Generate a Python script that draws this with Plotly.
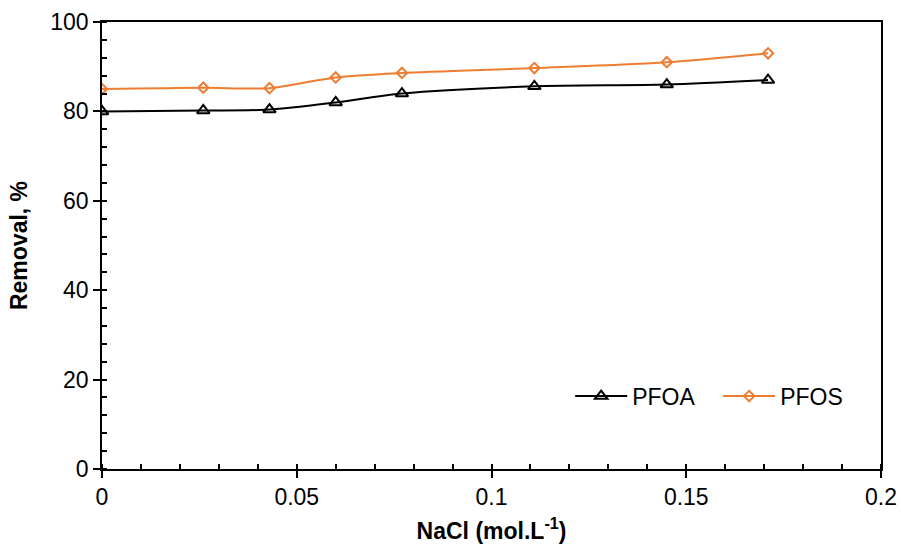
import plotly.graph_objects as go

# NaCl concentration (mol/L) and removal efficiency (%)
nacl = [0, 0.026, 0.043, 0.06, 0.077, 0.111, 0.145, 0.171]
pfoa = [80.0, 80.2, 80.4, 82.0, 84.0, 85.6, 86.0, 87.0]
pfos = [85.0, 85.3, 85.2, 87.6, 88.6, 89.7, 91.0, 93.0]

x_ticks = [0, 0.05, 0.1, 0.15, 0.2]
x_labels = ["0", "0.05", "0.1", "0.15", "0.2"]
y_ticks = [0, 20, 40, 60, 80, 100]

FONT = "Liberation Sans, Arial, sans-serif"
ORANGE = "#ED7D31"
FS = 23

fig = go.Figure()
fig.add_trace(go.Scatter(
    x=nacl, y=pfoa, name="PFOA", mode="lines+markers",
    line=dict(color="black", width=2, shape="spline", smoothing=0.8),
    marker=dict(symbol="triangle-up-open", size=11, color="black",
                line=dict(width=2, color="black")),
))
fig.add_trace(go.Scatter(
    x=nacl, y=pfos, name="PFOS", mode="lines+markers",
    line=dict(color=ORANGE, width=2, shape="spline", smoothing=0.8),
    marker=dict(symbol="diamond-open", size=8, color=ORANGE,
                line=dict(width=2, color=ORANGE)),
))
# invisible trace to carry the inner tick axes
fig.add_trace(go.Scatter(x=[0], y=[0], xaxis="x2", yaxis="y2",
                         mode="markers", marker=dict(opacity=0),
                         showlegend=False, hoverinfo="skip"))

axis_common = dict(
    showgrid=False, zeroline=False, showline=True, linecolor="black",
    linewidth=1.5, mirror=True, ticks="outside", ticklen=7, tickwidth=1.5,
    tickcolor="black", tickfont=dict(family=FONT, size=FS, color="black"),
    automargin=False,
)

fig.update_layout(
    width=901, height=544,
    margin=dict(l=102, r=20, t=22, b=75),
    paper_bgcolor="white", plot_bgcolor="white",
    font=dict(family=FONT, color="black"),
    xaxis=dict(
        **axis_common, range=[0, 0.2], tickvals=x_ticks, ticktext=x_labels,
        title=dict(text="<b>NaCl (mol.L<sup>-1</sup>)</b>",
                   font=dict(family=FONT, size=FS, color="black"), standoff=17),
        minor=dict(ticks="inside", dtick=0.01, ticklen=5, tickwidth=1.5,
                   tickcolor="black", showgrid=False),
    ),
    yaxis=dict(
        **axis_common, range=[0, 100], tickvals=y_ticks,
        title=dict(text="<b>Removal, %</b>",
                   font=dict(family=FONT, size=FS, color="black"), standoff=16),
        minor=dict(ticks="inside", dtick=4, ticklen=5, tickwidth=1.5,
                   tickcolor="black", showgrid=False),
    ),
    xaxis2=dict(overlaying="x", matches="x", anchor="y2", range=[0, 0.2],
                tickvals=x_ticks, ticks="inside", ticklen=5, tickwidth=1.5,
                tickcolor="black", showticklabels=False, showgrid=False,
                zeroline=False, showline=False, automargin=False),
    yaxis2=dict(overlaying="y", matches="y", anchor="x2", range=[0, 100],
                tickvals=y_ticks, ticks="inside", ticklen=5, tickwidth=1.5,
                tickcolor="black", showticklabels=False, showgrid=False,
                zeroline=False, showline=False, automargin=False),
    legend=dict(
        orientation="h", x=0.601, y=0.163, xanchor="left", yanchor="middle",
        font=dict(family=FONT, size=FS, color="black"),
        bgcolor="rgba(0,0,0,0)", itemwidth=52, entrywidth=81,
        entrywidthmode="pixels",
    ),
    showlegend=True,
)

fig.write_html("out.html", config=dict(displayModeBar=False))
